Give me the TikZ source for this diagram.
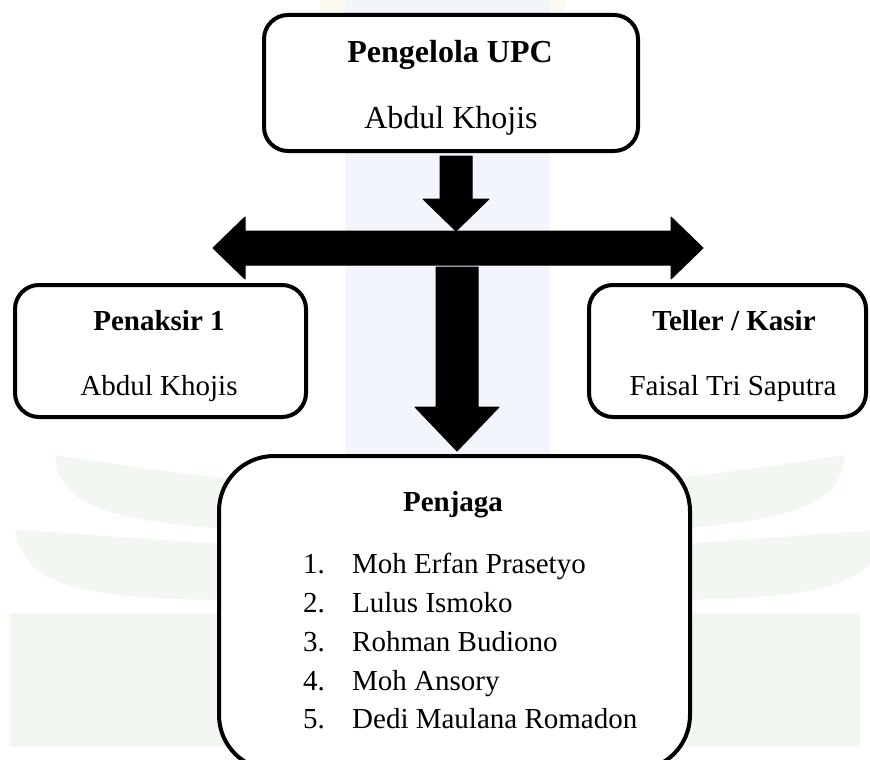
\documentclass[tikz,border=0pt]{standalone}
\usepackage{fontspec}
\setmainfont{Liberation Serif}
\definecolor{wmblue}{HTML}{F3F5FC}
\definecolor{wmgreen}{HTML}{F2F7F2}
\definecolor{wmcream}{HTML}{FCF9F1}
\begin{document}
\begin{tikzpicture}[x=1pt,y=-1pt,
  box/.style={draw, line width=4pt, fill=white, rounded corners=24pt, inner sep=0pt},
  blk/.style={fill=black, draw=black, line width=1pt, line join=round},
  txt/.style={anchor=base, inner sep=0pt, font=\fontsize{29}{35}\selectfont},
  ttl/.style={anchor=base, inner sep=0pt, font=\fontsize{29}{35}\selectfont\bfseries},
  bigtxt/.style={anchor=base, inner sep=0pt, font=\fontsize{32}{38}\selectfont},
  bigttl/.style={anchor=base, inner sep=0pt, font=\fontsize{32}{38}\selectfont\bfseries},
  lst/.style={anchor=base west, inner sep=0pt, font=\fontsize{29}{35}\selectfont}]
\useasboundingbox (0,0) rectangle (870,760);
% faint watermark
\fill[wmcream] (320,0) rectangle (565,12);
\fill[wmblue] (345,0) rectangle (550,612);
\fill[wmgreen] (10,613) rectangle (860,747);
\fill[wmgreen] (55,455) .. controls (60,500) and (90,520) .. (240,530) -- (240,480) .. controls (150,470) and (90,460) .. (55,455) -- cycle;
\fill[wmgreen] (15,530) .. controls (25,580) and (60,600) .. (240,600) -- (240,545) .. controls (150,540) and (60,532) .. (15,530) -- cycle;
\fill[wmgreen] (845,455) .. controls (840,500) and (810,520) .. (660,530) -- (660,480) .. controls (750,470) and (810,460) .. (845,455) -- cycle;
\fill[wmgreen] (885,530) .. controls (875,580) and (840,600) .. (660,600) -- (660,545) .. controls (750,540) and (840,532) .. (885,530) -- cycle;
% boxes
\node[box, minimum width=374pt, minimum height=136pt] (top) at (451,83) {};
\node[box, minimum width=291pt, minimum height=132pt] (left) at (160.5,351) {};
\node[box, minimum width=277pt, minimum height=132pt] (right) at (727.5,351) {};
\node[box, rounded corners=55pt, minimum width=471pt, minimum height=314pt] (bottom) at (454.5,613) {};
% arrows
\draw[blk] (440,156) -- (472,156) -- (472,199) -- (489,199) -- (456,231) -- (423,199) -- (440,199) -- cycle;
\draw[blk] (245,231) -- (671,231) -- (671,217) -- (703,248) -- (671,279) -- (671,265) -- (245,265) -- (245,279) -- (213,248) -- (245,217) -- cycle;
\draw[blk] (436,267) -- (478,267) -- (478,407) -- (499,407) -- (457,451) -- (415,407) -- (436,407) -- cycle;
% texts
\node[bigttl] (t1) at (450,63) {Pengelola UPC};
\node[bigtxt] (t2) at (451,128) {Abdul Khojis};
\node[ttl] (l1) at (159,330) {Penaksir 1};
\node[txt] (l2) at (159,395) {Abdul Khojis};
\node[ttl] (r1) at (734,330) {Teller / Kasir};
\node[txt] (r2) at (733,395) {Faisal Tri Saputra};
\node[ttl] (b0) at (453,511) {Penjaga};
\node[lst] (n1) at (303,573) {1.};
\node[lst] (m1) at (352,573) {Moh Erfan Prasetyo};
\node[lst] (n2) at (303,612) {2.};
\node[lst] (m2) at (352,612) {Lulus Ismoko};
\node[lst] (n3) at (303,651) {3.};
\node[lst] (m3) at (352,651) {Rohman Budiono};
\node[lst] (n4) at (303,690) {4.};
\node[lst] (m4) at (352,690) {Moh Ansory};
\node[lst] (n5) at (303,728) {5.};
\node[lst] (m5) at (352,728) {Dedi Maulana Romadon};
\end{tikzpicture}
\end{document}
